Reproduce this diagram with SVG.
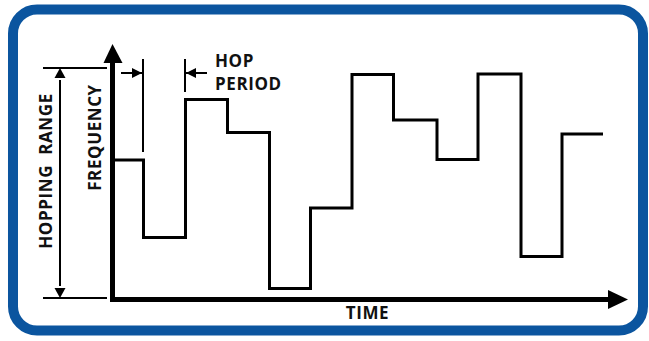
<svg xmlns="http://www.w3.org/2000/svg" width="649" height="341" viewBox="0 0 649 341">
<style>
.lbl{font-family:"Open Sans","Liberation Sans",sans-serif;font-weight:bold;font-size:17px;fill:#111;letter-spacing:0.6px}
.thin{stroke:#000;stroke-width:2;fill:none}
.sig{stroke:#000;stroke-width:3;fill:none;stroke-linejoin:miter}
</style>
<defs>
<marker id="sa" viewBox="0 0 10 10" refX="10" refY="5" markerWidth="10" markerHeight="10" markerUnits="userSpaceOnUse" orient="auto">
<path d="M0,0 L10,5 L0,10 Z" fill="#000"/>
</marker>
</defs>
<rect x="0" y="0" width="649" height="341" fill="#fff"/>
<rect id="frame" x="13" y="9.5" width="630" height="321" rx="24" fill="#fff" stroke="#0b559f" stroke-width="10"/>
<g id="connectors">
<path d="M112.5,60 V299.5 H612" fill="none" stroke="#000" stroke-width="5"/>
<path d="M103.5,63 L112.5,44 L122.5,63 Z" fill="#000"/>
<path d="M608,290 L628,299.5 L608,309 Z" fill="#000"/>
<line class="thin" x1="43" y1="68" x2="107" y2="68"/>
<line class="thin" x1="43" y1="298" x2="107" y2="298"/>
<line class="thin" x1="60" y1="80" x2="60" y2="286" />
<path d="M54.5,78 L60,68 L65.5,78 Z" fill="#000"/>
<path d="M54.5,288 L60,298 L65.5,288 Z" fill="#000"/>
<line class="thin" x1="143" y1="59" x2="143" y2="152"/>
<line class="thin" x1="185" y1="59" x2="185" y2="92"/>
<line class="thin" x1="121" y1="73" x2="142" y2="73" marker-end="url(#sa)"/>
<line class="thin" x1="207" y1="73" x2="186" y2="73" marker-end="url(#sa)"/>
</g>
<g id="signal">
<path class="sig" d="M115,160 H143.5 V237.5 H185.5 V99.5 H227.5 V132.5 H269.5 V288.5 H310.5 V208 H352 V74.5 H393.5 V120 H437 V159.5 H478 V74 H521 V256.5 H562 V134 H603"/>
</g>
<g id="labels">
<text class="lbl" x="215" y="67">HOP</text>
<text class="lbl" x="215" y="90">PERIOD</text>
<text class="lbl" x="367.5" y="319" text-anchor="middle">TIME</text>
<text class="lbl" transform="translate(52,171) rotate(-90)" text-anchor="middle" xml:space="preserve">HOPPING  RANGE</text>
<text class="lbl" transform="translate(100.5,137.5) rotate(-90)" text-anchor="middle">FREQUENCY</text>
</g>
</svg>
